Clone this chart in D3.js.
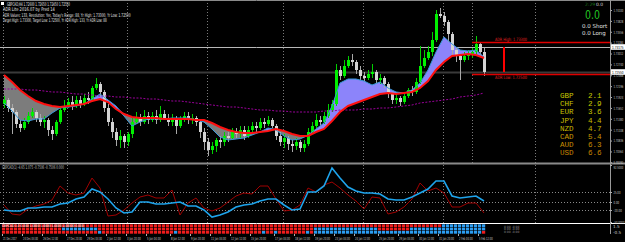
<!DOCTYPE html>
<html>
<head>
<meta charset="utf-8">
<script src="https://cdn.jsdelivr.net/npm/d3@7"></script>
<style>
html, body { margin: 0; padding: 0; background: #000; }
svg { display: block; }
text { font-family: "DejaVu Sans", sans-serif; }
</style>
</head>
<body>
<svg id="chart" width="625" height="242"></svg>
<script>
//Chart data (GBPCAD H4)
var openP = [1.7175,1.7185,1.7165,1.7155,1.7125,1.7115,1.7130,1.7145,1.7155,1.7140,
    1.7130,1.7135,1.7110,1.7100,1.7130,1.7160,1.7170,1.7180,1.7170,1.7185,
    1.7175,1.7190,1.7185,1.7215,1.7225,1.7205,1.7165,1.7130,1.7105,1.7085,
    1.7095,1.7080,1.7100,1.7130,1.7140,1.7130,1.7145,1.7135,1.7145,1.7135,
    1.7150,1.7140,1.7130,1.7140,1.7120,1.7135,1.7145,1.7135,1.7140,1.7130,
    1.7105,1.7080,1.7060,1.7070,1.7085,1.7080,1.7095,1.7090,1.7105,1.7100,
    1.7110,1.7095,1.7110,1.7120,1.7115,1.7130,1.7125,1.7135,1.7120,1.7095,
    1.7080,1.7090,1.7075,1.7070,1.7080,1.7065,1.7075,1.7105,1.7120,1.7135,
    1.7130,1.7145,1.7160,1.7175,1.7260,1.7245,1.7270,1.7285,1.7280,1.7260,
    1.7245,1.7240,1.7250,1.7255,1.7235,1.7240,1.7225,1.7200,1.7185,1.7190,
    1.7180,1.7195,1.7210,1.7205,1.7230,1.7270,1.7290,1.7305,1.7335,1.7400,
    1.7395,1.7380,1.7350,1.7310,1.7295,1.7285,1.7295,1.7300,1.7305,1.7325,
    1.7305];
var highP = [1.7195,1.7190,1.7175,1.7160,1.7135,1.7140,1.7155,1.7165,1.7160,1.7150,
    1.7145,1.7140,1.7120,1.7135,1.7170,1.7185,1.7190,1.7195,1.7195,1.7195,
    1.7200,1.7205,1.7220,1.7240,1.7230,1.7210,1.7175,1.7140,1.7115,1.7110,
    1.7100,1.7105,1.7140,1.7155,1.7150,1.7160,1.7155,1.7155,1.7160,1.7170,
    1.7160,1.7150,1.7150,1.7145,1.7145,1.7155,1.7155,1.7150,1.7145,1.7135,
    1.7115,1.7090,1.7080,1.7090,1.7095,1.7105,1.7105,1.7115,1.7115,1.7120,
    1.7120,1.7120,1.7130,1.7130,1.7140,1.7140,1.7145,1.7140,1.7125,1.7105,
    1.7100,1.7095,1.7085,1.7090,1.7085,1.7085,1.7115,1.7130,1.7150,1.7145,
    1.7155,1.7175,1.7185,1.7275,1.7270,1.7285,1.7295,1.7300,1.7285,1.7270,
    1.7255,1.7260,1.7275,1.7260,1.7250,1.7245,1.7230,1.7205,1.7200,1.7195,
    1.7200,1.7215,1.7220,1.7240,1.7320,1.7310,1.7320,1.7355,1.7410,1.7415,
    1.7405,1.7385,1.7355,1.7315,1.7300,1.7305,1.7310,1.7315,1.7345,1.7330,
    1.7315];
var lowP = [1.7165,1.7155,1.7100,1.7115,1.7105,1.7110,1.7125,1.7140,1.7130,1.7120,
    1.7115,1.7095,1.7085,1.7095,1.7125,1.7155,1.7165,1.7160,1.7165,1.7165,
    1.7170,1.7175,1.7180,1.7210,1.7195,1.7155,1.7120,1.7090,1.7070,1.7065,
    1.7065,1.7070,1.7090,1.7125,1.7120,1.7125,1.7125,1.7130,1.7125,1.7130,
    1.7135,1.7120,1.7120,1.7100,1.7115,1.7130,1.7125,1.7125,1.7120,1.7090,
    1.7060,1.7045,1.7050,1.7055,1.7065,1.7070,1.7080,1.7085,1.7090,1.7090,
    1.7085,1.7090,1.7105,1.7105,1.7110,1.7115,1.7120,1.7115,1.7085,1.7070,
    1.7065,1.7060,1.7055,1.7060,1.7055,1.7055,1.7070,1.7100,1.7115,1.7120,
    1.7125,1.7140,1.7155,1.7170,1.7235,1.7240,1.7265,1.7270,1.7250,1.7235,
    1.7230,1.7235,1.7240,1.7225,1.7225,1.7215,1.7190,1.7175,1.7175,1.7170,
    1.7175,1.7190,1.7195,1.7200,1.7225,1.7265,1.7285,1.7295,1.7330,1.7390,
    1.7370,1.7330,1.7295,1.7280,1.7235,1.7280,1.7285,1.7290,1.7300,1.7295,
    1.7245];
var closeP = [1.7185,1.7165,1.7155,1.7125,1.7115,1.7130,1.7145,1.7155,1.7140,1.7130,
    1.7135,1.7110,1.7100,1.7130,1.7160,1.7170,1.7180,1.7170,1.7185,1.7175,
    1.7190,1.7185,1.7215,1.7225,1.7205,1.7165,1.7130,1.7105,1.7085,1.7095,
    1.7080,1.7100,1.7130,1.7140,1.7130,1.7145,1.7135,1.7145,1.7135,1.7150,
    1.7140,1.7130,1.7140,1.7120,1.7135,1.7145,1.7135,1.7140,1.7130,1.7105,
    1.7080,1.7060,1.7070,1.7085,1.7080,1.7095,1.7090,1.7105,1.7100,1.7110,
    1.7095,1.7110,1.7120,1.7115,1.7130,1.7125,1.7135,1.7120,1.7095,1.7080,
    1.7090,1.7075,1.7070,1.7080,1.7065,1.7075,1.7105,1.7120,1.7135,1.7130,
    1.7145,1.7160,1.7175,1.7260,1.7245,1.7270,1.7285,1.7280,1.7260,1.7245,
    1.7240,1.7250,1.7255,1.7235,1.7240,1.7225,1.7200,1.7185,1.7190,1.7180,
    1.7195,1.7210,1.7205,1.7230,1.7270,1.7290,1.7305,1.7335,1.7400,1.7395,
    1.7380,1.7350,1.7310,1.7295,1.7285,1.7295,1.7300,1.7305,1.7325,1.7305,
    1.7255];

//Moving averages, one value every second bar
var maSlow = [1.72475,1.7230,1.7210,1.7195,1.71825,1.7175,1.7170,1.71675,1.7170,1.71725,
    1.7175,1.71825,1.71875,1.7180,1.71625,1.7150,1.71425,1.7140,1.7140,1.7140,
    1.71375,1.71375,1.71375,1.71375,1.7135,1.7135,1.71275,1.71175,1.7110,1.7105,
    1.71025,1.71025,1.7105,1.71075,1.71125,1.71075,1.7100,1.7095,1.7095,1.7105,
    1.71125,1.71325,1.7155,1.7170,1.71775,1.7185,1.71925,1.7200,1.72025,1.7200,
    1.72025,1.7205,1.7215,1.72325,1.7260,1.7280,1.7295,1.72975,1.7300,1.72975,
    1.7290];
var maFast = [1.71775,1.71575,1.7135,1.71325,1.71375,1.71375,1.71525,1.7165,1.71675,1.7170,
    1.7175,1.71875,1.7200,1.7185,1.7170,1.7145,1.7120,1.7130,1.71375,1.71375,
    1.71375,1.7140,1.7140,1.7140,1.7135,1.7130,1.71125,1.70925,1.7085,1.70875,
    1.7090,1.70975,1.7105,1.7115,1.7110,1.7095,1.7085,1.70875,1.70975,1.71125,
    1.71275,1.7170,1.72275,1.72375,1.72375,1.72325,1.72225,1.7230,1.7215,1.7205,
    1.72025,1.7210,1.72275,1.7260,1.7305,1.73425,1.7325,1.7310,1.73075,1.7310,
    1.72925];
var maLong = [1.72125,1.72125,1.72125,1.7210,1.7210,1.72075,1.7205,1.7205,1.72025,1.7200,
    1.7200,1.71975,1.7195,1.7195,1.71925,1.71925,1.7190,1.7190,1.71875,1.71875,
    1.7185,1.71825,1.71825,1.7180,1.71775,1.7175,1.71725,1.7170,1.71675,1.71675,
    1.7165,1.71625,1.7160,1.7160,1.71575,1.71575,1.7155,1.7155,1.7155,1.7155,
    1.71575,1.71575,1.7160,1.7160,1.7160,1.71625,1.71625,1.7165,1.7165,1.71675,
    1.7170,1.71725,1.71775,1.7180,1.71825,1.7185,1.71875,1.71925,1.7195,1.71975,
    1.72025];

//Oscillator window, one value every second bar
var oscBlue = [-20,-22.5,-22.5,-15,-15,-12.5,-12.5,-5,-2.5,7.5,
    12.5,32.5,25,7.5,-15,-27.5,-25,0,0,-5,
    -5,-2.5,0,-10,-10,-20,-37.5,-32.5,-25,-12.5,
    -7.5,-5,2.5,7.5,7.5,-7.5,-20,-17.5,25,25,
    40,85,60,37.5,27.5,22.5,22.5,20,7.5,5,
    5,12.5,22.5,32.5,52.5,52.5,15,10,12.5,15,
    2.5];
var oscRed = [-7.5,-30,-32.5,-17.5,-10,-5,5,40,22.5,17.5,
    22.5,60,35,-35,-32.5,-20,-2.5,12.5,17.5,10,
    10,30,-32.5,-2.5,10,-15,-22.5,-15,0,15,
    22.5,20,40,40,7.5,-22.5,-20,-7.5,35,25,
    42.5,50,35,17.5,2.5,-17.5,12.5,10,-30,-25,
    -12.5,7.5,47.5,27.5,35,22.5,-12.5,-12.5,-2.5,-2.5,
    -27.5];
var oscLevels = [25, 0, -20];
var oscTickValues = [92.5, 25, 0, -20, -50];
var oscTickLabels = ["92.5000", "25.00", "0.00", "-20.00", "-50.0000"];

//Signal strip: runs of [count, state] per row
var stripRows = [
    [[110, "R"], [11, "B"]],
    [[15, "R"], [9, "B"], [54, "R"], [16, "B"], [8, "R"], [19, "B"]],
    [[24, "R"], [1, "B"], [18, "R"], [1, "B"], [21, "R"], [1, "B"], [2, "R"], [1, "B"], [7, "R"], [1, "B"], [1, "R"], [42, "B"], [1, "R"]]
];

//Axes
var priceTicks = [1.74100, 1.73828, 1.73556, 1.73284, 1.73012, 1.72740, 1.72468, 1.72196,
    1.71924, 1.71652, 1.71380, 1.71108, 1.70836, 1.70564, 1.70292];
var timeTickBars = [0, 5, 10, 16, 21, 26, 31, 36, 42, 47, 52, 57, 62, 68, 73, 78, 83, 88, 94, 99, 104, 109, 114, 119];
var timeLabels = ["21 Dec 2017", "24 Dec 04:00", "26 Dec 12:00", "27 Dec 20:00", "29 Dec 04:00", "2 Jan 12:00",
    "3 Jan 20:00", "5 Jan 04:00", "8 Jan 12:00", "9 Jan 20:00", "11 Jan 04:00", "12 Jan 12:00",
    "15 Jan 20:00", "17 Jan 04:00", "18 Jan 12:00", "19 Jan 20:00", "23 Jan 04:00", "24 Jan 12:00",
    "25 Jan 20:00", "29 Jan 04:00", "30 Jan 12:00", "31 Jan 20:00", "2 Feb 04:00", "5 Feb 12:00"];
var separatorBars = [0, 16, 31, 51, 70, 90, 110, 133];
var dayStartBar = 117;

//Levels
var adrHigh = 1.73300;
var adrLow = 1.72500;
var todayHigh = 1.73175;
var lastPrice = 1.72550;

//Currency strength panel
var currencies = ["GBP", "CHF", "EUR", "JPY", "NZD", "CAD", "AUD", "USD"];
var strength = [2.1, 2.9, 3.6, 4.4, 4.7, 5.4, 6.3, 6.6];
var strengthColors = ["#c8c800", "#c8c800", "#c8c400", "#c8be00", "#c8b800", "#c89a00", "#c88c00", "#c88400"];

var infoLines = ["GBPCAD,H4  1.72600 1.72650 1.72450 1.72550",
    "ADR Lite 2016.07 by Pred 14",
    "ADR Values: 133, Resolution: Yes, Today's Range: 88, Yr High: 1.73300, Yr Low: 1.72500",
    "Target High: 1.73300, Target Low: 1.72500, Yr ADR High: 133, Yr ADR Low: 88"];

//Layout
var svgWidth = 625, svgHeight = 242;
var plotRight = 610;
var mainBottom = 163;

var svg = d3.select("#chart");
svg.append("rect").attr("width", svgWidth).attr("height", svgHeight).attr("fill", "#000");

var xScale = d3.scaleLinear().domain([0, 120]).range([4, 484]);
var yPrice = d3.scaleLinear().domain([1.70275, 1.7435]).range([mainBottom, 0]);
var yOsc = d3.scaleLinear().domain([-50, 92.5]).range([222, 165]);

//squeeze tiny labels horizontally into the width they take in the picture
function squeeze(sel, perChar, maxW) {
    sel.each(function() {
        var t = d3.select(this);
        var w0 = this.getComputedTextLength();
        var w = Math.min(maxW, t.text().length * perChar);
        if (w0 > w) {
            var x = +t.attr("x") || 0;
            t.attr("transform", `translate(${x},0) scale(${w / w0},1) translate(${-x},0)`);
        }
    });
}

//Grid separators
var grid = svg.append("g");
separatorBars.forEach(function(b) {
    grid.append("line")
        .attr("x1", Math.round(xScale(b)) - 0.5).attr("x2", Math.round(xScale(b)) - 0.5)
        .attr("y1", 0).attr("y2", 223)
        .attr("stroke", "#7a7a7a").attr("stroke-dasharray", "1,2");
});
grid.append("line")
    .attr("x1", xScale(dayStartBar) + 0.5).attr("x2", xScale(dayStartBar) + 0.5)
    .attr("y1", 0).attr("y2", mainBottom)
    .attr("stroke", "#7a7a7a").attr("stroke-dasharray", "1,2");

//Frame lines
svg.append("line").attr("x1", 0).attr("x2", svgWidth).attr("y1", 0.5).attr("y2", 0.5).attr("stroke", "#8a8a8a");
svg.append("line").attr("x1", 0).attr("x2", svgWidth).attr("y1", mainBottom + 0.5).attr("y2", mainBottom + 0.5)
    .attr("stroke", "#8a8a8a").attr("stroke-width", 2);
svg.append("line").attr("x1", 0).attr("x2", svgWidth).attr("y1", 223.5).attr("y2", 223.5).attr("stroke", "#ffffff");

//Horizontal price lines
svg.append("line").attr("x1", 0).attr("x2", plotRight)
    .attr("y1", Math.round(yPrice(lastPrice)) + 0.5).attr("y2", Math.round(yPrice(lastPrice)) + 0.5)
    .attr("stroke", "#3a3a3a").attr("stroke-width", 2);
svg.append("line").attr("x1", 0).attr("x2", plotRight)
    .attr("y1", Math.round(yPrice(todayHigh)) + 0.5).attr("y2", Math.round(yPrice(todayHigh)) + 0.5)
    .attr("stroke", "#b8b8b8");

//MA band fill
var maData = maSlow.map(function(v, k) {
    return {i: k * 2, slow: v, fast: maFast[k], long: maLong[k]};
});
var grayArea = d3.area()
    .x(d => xScale(d.i))
    .y0(d => yPrice(d.slow))
    .y1(d => yPrice(Math.min(d.slow, d.fast)));
var purpleArea = d3.area()
    .x(d => xScale(d.i))
    .y0(d => yPrice(d.slow))
    .y1(d => yPrice(Math.max(d.slow, d.fast)));
svg.append("path").datum(maData).attr("d", grayArea).attr("fill", "#7c7c7c");
svg.append("path").datum(maData).attr("d", purpleArea).attr("fill", "#8c84fa");

//Candles
var candles = openP.map(function(o, i) {
    return {i: i, o: o, h: highP[i], l: lowP[i], c: closeP[i]};
});
var candleGroup = svg.append("g");
candleGroup.selectAll("line")
    .data(candles)
    .enter()
    .append("line")
    .attr("x1", d => xScale(d.i) + 0.5)
    .attr("x2", d => xScale(d.i) + 0.5)
    .attr("y1", d => yPrice(d.h))
    .attr("y2", d => yPrice(d.l))
    .attr("stroke", d => d.c >= d.o ? "#00d000" : "#a8a8a8");
candleGroup.selectAll("rect")
    .data(candles)
    .enter()
    .append("rect")
    .attr("x", d => xScale(d.i) - 1)
    .attr("width", 3)
    .attr("y", d => yPrice(Math.max(d.o, d.c)))
    .attr("height", d => Math.max(1, Math.abs(yPrice(d.o) - yPrice(d.c))))
    .attr("fill", d => d.c >= d.o ? "#00f000" : "#d4d4d4");

//MA lines
var lineOf = function(key) {
    return d3.line().x(d => xScale(d.i)).y(d => yPrice(d[key]));
};
svg.append("path").datum(maData).attr("d", lineOf("long"))
    .attr("fill", "none").attr("stroke", "#9a009a").attr("stroke-dasharray", "2,1.5");
svg.append("path").datum(maData).attr("d", lineOf("fast"))
    .attr("fill", "none").attr("stroke", "#3898d8").attr("stroke-width", 1);
svg.append("path").datum(maData).attr("d", lineOf("slow"))
    .attr("fill", "none").attr("stroke", "#ff1010").attr("stroke-width", 2);

//ADR levels
var adrX = xScale(dayStartBar);
[[adrHigh, "ADR High: ", -1], [adrLow, "ADR Low: ", 4.5]].forEach(function(a) {
    var y = Math.round(yPrice(a[0])) + 0.5;
    svg.append("line").attr("x1", adrX).attr("x2", plotRight).attr("y1", y).attr("y2", y)
        .attr("stroke", "#e00000").attr("stroke-width", 1.5);
    svg.append("text").attr("x", 495).attr("y", y + a[2])
        .attr("font-size", 4.5).attr("fill", "#e02020")
        .text(a[1] + d3.format(".5f")(a[0]))
        .call(squeeze, 2, 32);
});
svg.append("line").attr("x1", 504).attr("x2", 504)
    .attr("y1", yPrice(todayHigh)).attr("y2", yPrice(lastPrice))
    .attr("stroke", "#ff0000").attr("stroke-width", 2);

//Info text top-left
var infoWidths = [63, 52, 128, 104];
svg.append("rect").attr("x", 1).attr("y", 2).attr("width", 3).attr("height", 3).attr("fill", "#fff");
infoLines.forEach(function(t, k) {
    svg.append("text")
        .attr("x", k === 0 ? 7 : 3).attr("y", 6 + k * 5.3)
        .attr("font-size", 5).attr("fill", "#e8e8e8")
        .text(t)
        .call(squeeze, 10, infoWidths[k]);
});

//Top-right counters
svg.append("text").attr("x", 585).attr("y", 5.5).attr("font-size", 4.5).attr("fill", "#1a7a1a").text("2:29");
svg.append("text").attr("x", 596).attr("y", 5.5).attr("font-size", 4.5).attr("fill", "#d0d0d0").text("0.0");
svg.append("text").attr("x", 585).attr("y", 19).attr("font-size", 13).attr("fill", "#22c822")
    .text("0.0").call(squeeze, 5, 15);
svg.append("text").attr("x", 582).attr("y", 28).attr("font-size", 5.5).attr("fill", "#e0e0e0").text("0.0 Short");
svg.append("text").attr("x", 582).attr("y", 35).attr("font-size", 5.5).attr("fill", "#e0e0e0").text("0.0 Long");

//Currency strength list
var strengthGroup = svg.append("g").attr("font-size", 7.6);
currencies.forEach(function(c, k) {
    var y = 98 + k * 8.2;
    strengthGroup.append("text").attr("x", 560).attr("y", y).attr("fill", strengthColors[k])
        .style("font-family", "Liberation Mono, monospace").text(c);
    strengthGroup.append("text").attr("x", 588).attr("y", y).attr("fill", strengthColors[k])
        .style("font-family", "Liberation Mono, monospace").text(d3.format(".1f")(strength[k]));
});

//Price axis
var priceAxis = d3.axisRight(yPrice).tickValues(priceTicks).tickSize(2).tickFormat(d3.format(".5f"));
var pAxis = svg.append("g").attr("transform", `translate(${plotRight}, 0)`).call(priceAxis);
pAxis.select(".domain").remove();
pAxis.selectAll("line").attr("stroke", "#b0b0b0");
pAxis.selectAll("text").attr("font-size", 4.2).attr("fill", "#c8c8c8").attr("x", 3.5)
    .attr("font-family", "DejaVu Sans, sans-serif").call(squeeze, 1.4, 10.5);
[todayHigh, lastPrice].forEach(function(p) {
    var y = yPrice(p);
    svg.append("rect").attr("x", plotRight + 1).attr("y", y - 2.8).attr("width", 14).attr("height", 5.6).attr("fill", "#ffffff");
    svg.append("text").attr("x", plotRight + 2).attr("y", y + 1.6).attr("font-size", 4.2).attr("fill", "#000")
        .text(d3.format(".5f")(p)).call(squeeze, 2, 11.5);
});
svg.append("line").attr("x1", plotRight + 0.5).attr("x2", plotRight + 0.5).attr("y1", 0).attr("y2", 234)
    .attr("stroke", "#9a9a9a");

//Oscillator window
oscLevels.forEach(function(v) {
    svg.append("line").attr("x1", 0).attr("x2", plotRight)
        .attr("y1", Math.round(yOsc(v)) + 0.5).attr("y2", Math.round(yOsc(v)) + 0.5)
        .attr("stroke", "#8a8a8a").attr("stroke-dasharray", "1,2");
});
var oscData = oscBlue.map(function(v, k) { return {i: k * 2, b: v, r: oscRed[k]}; });
svg.append("path").datum(oscData)
    .attr("d", d3.line().x(d => xScale(d.i)).y(d => yOsc(d.r)))
    .attr("fill", "none").attr("stroke", "#a00000").attr("stroke-width", 1);
svg.append("path").datum(oscData)
    .attr("d", d3.line().x(d => xScale(d.i)).y(d => yOsc(d.b)))
    .attr("fill", "none").attr("stroke", "#1ea4ec").attr("stroke-width", 1.6);
svg.append("text").attr("x", 2).attr("y", 169).attr("font-size", 5).attr("fill", "#c0c0c0")
    .text("GBPCAD(1) -4.65 1.075 -0.7506 -0.7506 0.000").call(squeeze, 10, 62);
var oscAxis = d3.axisRight(yOsc).tickValues(oscTickValues).tickSize(2)
    .tickFormat((d, k) => oscTickLabels[k]);
var oAxis = svg.append("g").attr("transform", `translate(${plotRight}, 0)`).call(oscAxis);
oAxis.select(".domain").remove();
oAxis.selectAll("line").attr("stroke", "#b0b0b0");
oAxis.selectAll("text").attr("font-size", 4.2).attr("fill", "#c8c8c8").attr("x", 3.5)
    .attr("font-family", "DejaVu Sans, sans-serif").call(squeeze, 1.4, 11);
oAxis.selectAll(".tick").filter((d, k) => k === 0).select("text").attr("dy", "0.9em");

//Signal strip
var stripGroup = svg.append("g");
stripRows.forEach(function(runs, r) {
    var bar = 0;
    runs.forEach(function(run) {
        for (var n = 0; n < run[0]; n++) {
            stripGroup.append("rect")
                .attr("x", xScale(bar) - 2)
                .attr("y", 224.3 + r * 3.3)
                .attr("width", 3.2).attr("height", 2.8)
                .attr("fill", run[1] === "R" ? "#ee1c1c" : "#2c9cf0");
            bar++;
        }
    });
});
svg.append("text").attr("x", 2).attr("y", 227.2).attr("font-size", 3.6).attr("fill", "#ffffff")
    .text("GBPCAD 1.0 0.000 1.0000 1.0000 1.0000 1.00000 0.000").call(squeeze, 10, 82);
["0.00 -0.00", "0.00 -0.00", "0.00 -0.00"].forEach(function(t, k) {
    svg.append("text").attr("x", 504).attr("y", 227.5 + k * 2.6).attr("font-size", 3).attr("fill", "#909090").text(t);
});
svg.append("text").attr("x", 613).attr("y", 228).attr("font-size", 4.2).attr("fill", "#c8c8c8").text("1.5");
svg.append("text").attr("x", 613).attr("y", 234).attr("font-size", 4.2).attr("fill", "#c8c8c8").text("-0.5");

//Time axis
timeTickBars.forEach(function(b, k) {
    var x = Math.round(xScale(b)) - 2;
    svg.append("line").attr("x1", x + 0.5).attr("x2", x + 0.5).attr("y1", 234).attr("y2", 236).attr("stroke", "#b0b0b0");
    svg.append("text").attr("x", x + 1).attr("y", 240.5).attr("font-size", 4.2).attr("fill", "#c8c8c8")
        .text(timeLabels[k]).call(squeeze, 1.25, 15.5);
});
</script>
</body>
</html>
